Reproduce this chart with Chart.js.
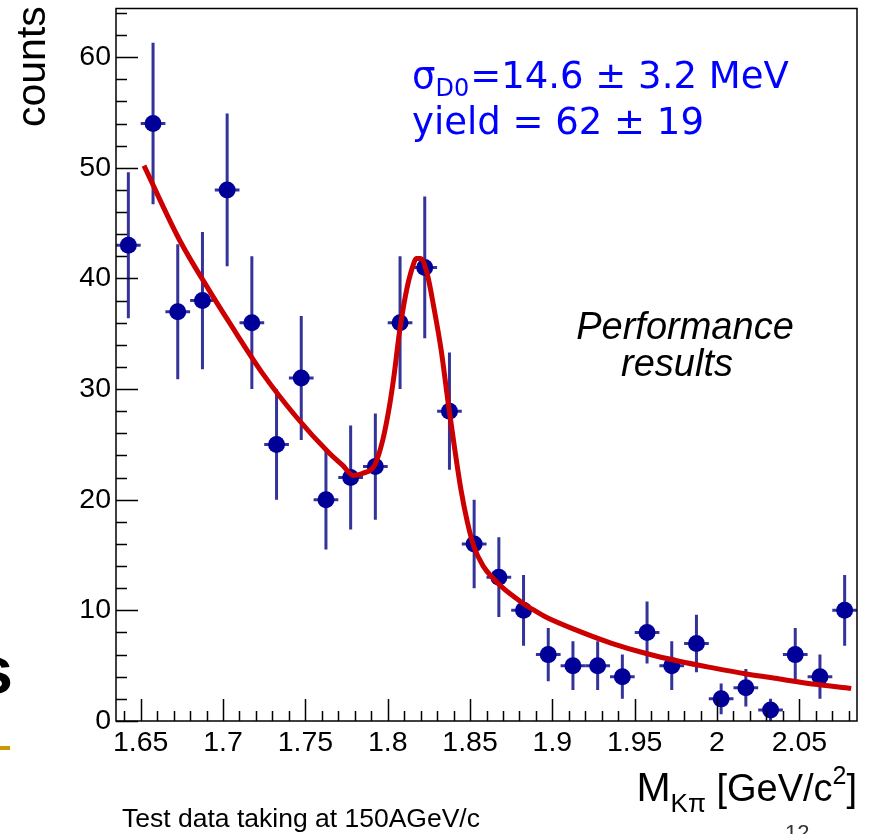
<!DOCTYPE html>
<html>
<head>
<meta charset="utf-8">
<title>D0 invariant mass</title>
<script src="https://cdn.jsdelivr.net/npm/chart.js@4/dist/chart.umd.min.js"></script>
<style>
  html, body { margin: 0; padding: 0; background: #fff; }
  canvas { display: block; }
</style>
</head>
<body>
<canvas id="massChart" width="870" height="834"></canvas>
<script>
// histogram bins (centres, 15 MeV wide)
const binCenters = [1.6425, 1.6575, 1.6725, 1.6875, 1.7025, 1.7175, 1.7325, 1.7475, 1.7625, 1.7775,
                    1.7925, 1.8075, 1.8225, 1.8375, 1.8525, 1.8675, 1.8825, 1.8975, 1.9125, 1.9275,
                    1.9425, 1.9575, 1.9725, 1.9875, 2.0025, 2.0175, 2.0325, 2.0475, 2.0625, 2.0775];
const counts = [43, 54, 37, 38, 48, 36, 25, 31, 20, 22,
                23, 36, 41, 28, 16, 13, 10, 6, 5, 5,
                4, 8, 5, 7, 2, 3, 1, 6, 4, 10];
const countErrors = [6.6, 7.3, 6.1, 6.2, 6.9, 6.0, 5.0, 5.6, 4.5, 4.7,
                     4.8, 6.0, 6.4, 5.3, 4.0, 3.6, 3.2, 2.4, 2.2, 2.2,
                     2.0, 2.8, 2.2, 2.6, 1.4, 1.7, 1.0, 2.4, 2.0, 3.2];
const binHalfWidth = 0.0075;

// fit curve (background + gaussian peak)
const fitX = [1.652, 1.6735, 1.6917, 1.7039, 1.7241, 1.7444, 1.7646, 1.7727, 1.779, 1.785,
              1.792, 1.797, 1.801, 1.804, 1.807, 1.811, 1.815, 1.8175, 1.820, 1.824,
              1.828, 1.8325, 1.8365, 1.8405, 1.8445, 1.8485, 1.8525, 1.858, 1.864, 1.871,
              1.878, 1.8825, 1.889, 1.896, 1.9165, 1.9365, 1.957, 1.977, 1.9975, 2.018,
              2.038, 2.058, 2.0815];
const fitY = [50.2, 43.5, 38.9, 36.0, 31.4, 27.5, 24.2, 23.1, 22.2, 22.4,
              23.1, 25.4, 28.4, 31.4, 35.0, 38.6, 41.0, 41.8, 41.8, 40.4,
              37.4, 33.5, 29.0, 24.8, 20.9, 17.9, 15.7, 14.0, 12.9, 11.9,
              11.1, 10.6, 10.0, 9.4, 8.1, 7.0, 6.1, 5.4, 4.8, 4.25,
              3.8, 3.35, 2.95];

const xLabelTicks = [1.65, 1.7, 1.75, 1.8, 1.85, 1.9, 1.95, 2.0, 2.05];
const yLabelTicks = [0, 10, 20, 30, 40, 50, 60];
const xRange = [1.635, 2.085];
const yRange = [0, 64.4];

const AXIS_FONT = 'Liberation Sans, Arial, sans-serif';

// error bars under the markers
const errorBars = {
  id: 'errorBars',
  beforeDatasetsDraw(chart) {
    const ctx = chart.ctx;
    const xs = chart.scales.x, ys = chart.scales.y;
    ctx.save();
    ctx.strokeStyle = '#333399';
    ctx.lineWidth = 3;
    binCenters.forEach((x, i) => {
      const px = xs.getPixelForValue(x);
      const py = ys.getPixelForValue(counts[i]);
      ctx.beginPath();
      ctx.moveTo(px, ys.getPixelForValue(Math.max(0, counts[i] - countErrors[i])));
      ctx.lineTo(px, ys.getPixelForValue(counts[i] + countErrors[i]));
      ctx.moveTo(xs.getPixelForValue(x - binHalfWidth), py);
      ctx.lineTo(xs.getPixelForValue(x + binHalfWidth), py);
      ctx.stroke();
    });
    ctx.restore();
  }
};

// ROOT style frame with inward ticks
const frameTicks = {
  id: 'frameTicks',
  afterDatasetsDraw(chart) {
    const ctx = chart.ctx;
    const a = chart.chartArea;
    const xs = chart.scales.x, ys = chart.scales.y;
    ctx.save();
    ctx.strokeStyle = '#000';
    ctx.lineWidth = 1.5;
    ctx.strokeRect(a.left, a.top, a.right - a.left, a.bottom - a.top);
    ctx.beginPath();
    for (let v = 0; v <= 64; v += 2) {
      const py = Math.round(ys.getPixelForValue(v)) + 0.5;
      const len = v % 10 === 0 ? 22 : 11;
      ctx.moveTo(a.left, py);
      ctx.lineTo(a.left + len, py);
    }
    for (let k = 164; k <= 208; k++) {
      const px = Math.round(xs.getPixelForValue(k / 100)) + 0.5;
      const len = k % 5 === 0 ? 22 : 10;
      ctx.moveTo(px, a.bottom);
      ctx.lineTo(px, a.bottom - len);
    }
    ctx.stroke();
    ctx.restore();
  }
};

// axis titles and annotations
const annotations = {
  id: 'annotations',
  afterDraw(chart) {
    const ctx = chart.ctx;
    ctx.save();
    ctx.fillStyle = '#000';
    ctx.textAlign = 'left';
    ctx.textBaseline = 'alphabetic';

    // y title
    ctx.save();
    ctx.translate(45, 127);
    ctx.rotate(-Math.PI / 2);
    ctx.font = '41px ' + AXIS_FONT;
    ctx.fillText('counts', 0, 0);
    ctx.restore();

    // x title, right aligned to the frame
    const parts = [
      { t: 'M', size: 41, dy: 0 },
      { t: 'Kπ', size: 26, dy: 11 },
      { t: ' [GeV/c', size: 38, dy: 0 },
      { t: '2', size: 25, dy: -17 },
      { t: ']', size: 38, dy: 0 }
    ];
    let total = 0;
    parts.forEach(p => { ctx.font = p.size + 'px ' + AXIS_FONT; p.w = ctx.measureText(p.t).width; total += p.w; });
    let x = 857 - total;
    parts.forEach(p => {
      ctx.font = p.size + 'px ' + AXIS_FONT;
      ctx.fillText(p.t, x, 801 + p.dy);
      x += p.w;
    });

    // fit results
    ctx.fillStyle = '#0000ff';
    ctx.font = '37px DejaVu Sans';
    ctx.fillText('σ', 412, 88);
    let sx = 412 + ctx.measureText('σ').width;
    ctx.font = '24px DejaVu Sans';
    ctx.fillText('D0', sx, 96);
    sx += ctx.measureText('D0').width;
    ctx.font = '37px DejaVu Sans';
    ctx.fillText('=14.6 ± 3.2 MeV', sx + 1, 88);
    ctx.fillText('yield = 62 ± 19', 412, 134);

    ctx.fillStyle = '#000';
    ctx.textAlign = 'center';
    ctx.font = 'italic 38px ' + AXIS_FONT;
    ctx.fillText('Performance', 685, 339);
    ctx.fillText('results', 677, 376);

    ctx.textAlign = 'left';
    ctx.font = '26.5px ' + AXIS_FONT;
    ctx.fillText('Test data taking at 150AGeV/c', 122, 827);

    ctx.fillStyle = '#333';
    ctx.font = '22px ' + AXIS_FONT;
    ctx.fillText('12', 785, 840);

    // slide leftovers at the left edge
    ctx.fillStyle = '#000';
    ctx.textAlign = 'right';
    ctx.font = 'bold 66px ' + AXIS_FONT;
    ctx.fillText('s', 13, 693);
    ctx.fillStyle = '#c99a06';
    ctx.fillRect(0, 746, 10, 4);
    ctx.restore();
  }
};

const points = binCenters.map((x, i) => ({ x: x, y: counts[i] }));
const fitPoints = fitX.map((x, i) => ({ x: x, y: fitY[i] }));

new Chart(document.getElementById('massChart'), {
  type: 'scatter',
  data: {
    datasets: [
      {
        type: 'line',
        data: fitPoints,
        borderColor: '#cc0000',
        borderWidth: 5,
        pointRadius: 0,
        fill: false,
        cubicInterpolationMode: 'monotone',
        order: 0
      },
      {
        data: points,
        backgroundColor: '#000099',
        borderWidth: 0,
        pointRadius: 8.5,
        order: 1
      }
    ]
  },
  options: {
    responsive: false,
    animation: false,
    layout: { padding: { top: 8, right: 13, left: 0, bottom: 0 } },
    plugins: { legend: { display: false }, tooltip: { enabled: false } },
    scales: {
      x: {
        type: 'linear',
        min: xRange[0],
        max: xRange[1],
        border: { display: false },
        grid: { display: false, drawTicks: false },
        afterBuildTicks: scale => { scale.ticks = xLabelTicks.map(v => ({ value: v })); },
        afterFit: scale => { scale.height = 113; scale.paddingLeft = 0; scale.paddingRight = 0; },
        ticks: {
          color: '#000',
          padding: 5,
          maxRotation: 0,
          autoSkip: false,
          font: { family: AXIS_FONT, size: 28.5 },
          callback: v => String(Math.round(v * 100) / 100)
        }
      },
      y: {
        min: yRange[0],
        max: yRange[1],
        border: { display: false },
        grid: { display: false, drawTicks: false },
        afterBuildTicks: scale => { scale.ticks = yLabelTicks.map(v => ({ value: v })); },
        afterFit: scale => { scale.width = 116; scale.paddingTop = 0; scale.paddingBottom = 0; },
        ticks: {
          color: '#000',
          padding: 5,
          autoSkip: false,
          font: { family: AXIS_FONT, size: 28.5 },
          callback: v => String(v)
        }
      }
    }
  },
  plugins: [errorBars, frameTicks, annotations]
});
</script>
</body>
</html>
